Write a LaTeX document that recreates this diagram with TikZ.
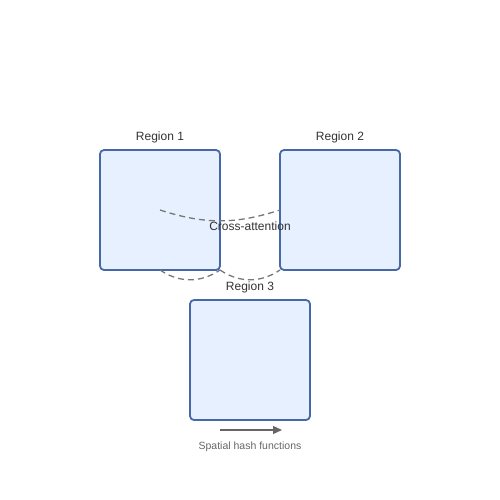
\documentclass[tikz,border=0pt]{standalone}
\usepackage{fontspec}
\setmainfont{Liberation Sans}
\usetikzlibrary{positioning,arrows.meta}
\definecolor{regionblue}{HTML}{4667A8}
\definecolor{regionfill}{HTML}{E6F0FF}
\definecolor{textgray}{HTML}{333333}
\definecolor{linkgray}{HTML}{777777}
\definecolor{arrowgray}{HTML}{666666}
\begin{document}
\begin{tikzpicture}[
    x=1pt, y=-1pt,
    region/.style={draw=regionblue, fill=regionfill, line width=1.8pt,
      rounded corners=4pt, minimum size=120pt, inner sep=0pt, outer sep=0pt},
    regionlabel/.style={text=textgray, font=\fontsize{12}{14}\selectfont, inner sep=0pt},
    attend/.style={draw=linkgray, line width=1.3pt, dash pattern=on 6pt off 4pt},
    hasharrow/.style={draw=arrowgray, line width=1.3pt, -{Triangle[length=9pt,width=8pt]}},
  line join=round]
  \useasboundingbox (0,0) rectangle (500,500);

  \node [region] (r1) at (160,210) {};
  \node [region, right=60pt of r1] (r2) {};
  \node [region] (r3) at (250,360) {};

  \node [regionlabel, above=7pt of r1] (l1) {Region 1};
  \node [regionlabel, above=7pt of r2] (l2) {Region 2};
  \node [regionlabel, above=7pt of r3] (l3) {Region 3};

  % cross-attention links
  \draw [attend] (r1.center) to[bend right=18] (r2.west);
  \draw [attend] (r1.south) to[bend right=34] (r1.south east);
  \draw [attend] (r1.south east) to[bend right=34] (r2.south west);
  \path (r1) -- (r2) node [midway, yshift=-16pt, regionlabel] (ca) {Cross-attention};

  % hash functions
  \coordinate (h1) at ([shift={(-30,10)}]r3.south);
  \coordinate (h2) at ([shift={(32,10)}]r3.south);
  \draw [hasharrow] (h1) -- (h2);
  \node [below=22pt of r3.south, inner sep=0pt, text=arrowgray,
    font=\fontsize{10.5}{12}\selectfont] (hl) {Spatial hash functions};
\end{tikzpicture}
\end{document}
